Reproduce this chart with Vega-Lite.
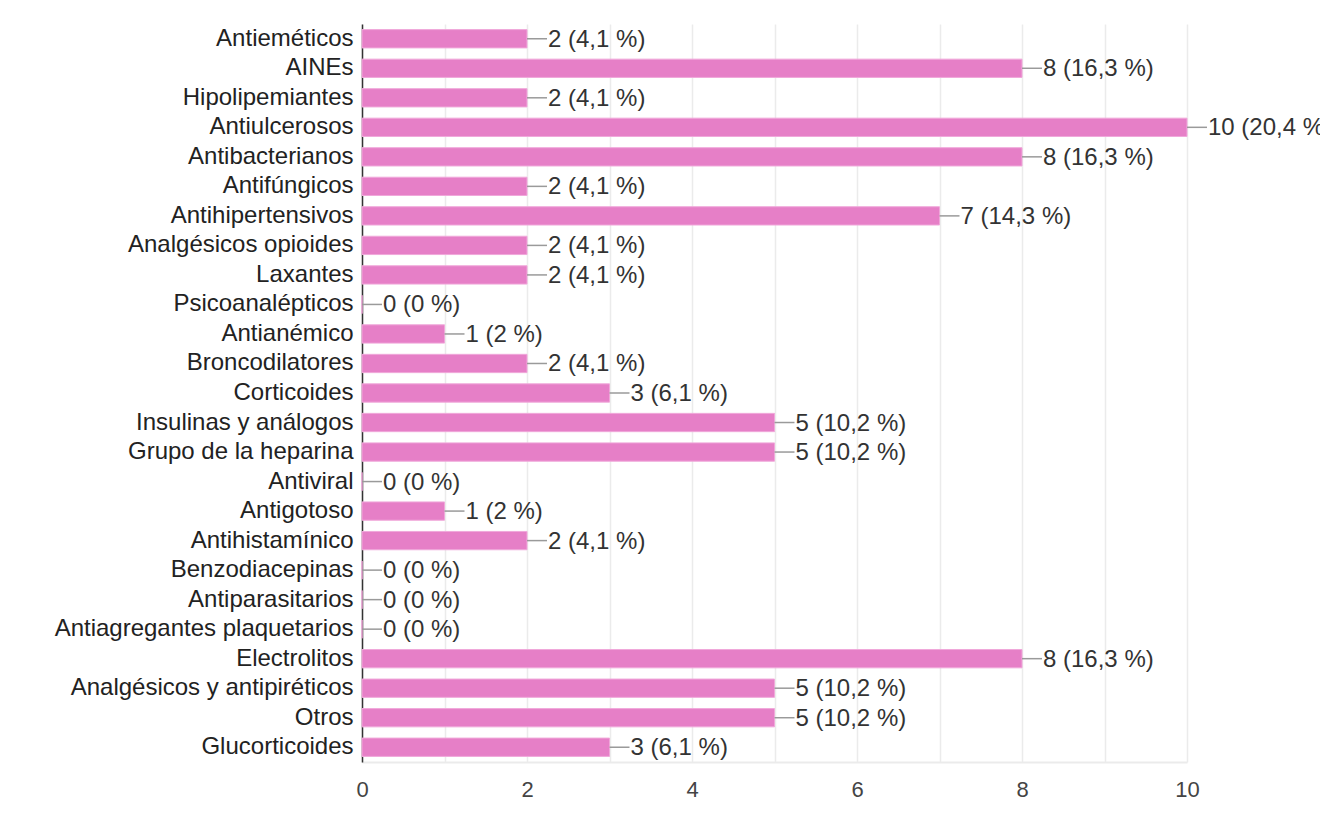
{
  "$schema": "https://vega.github.io/schema/vega-lite/v6.json",
  "autosize": {"type": "none"},
  "padding": {"left": 362, "top": 24, "right": 133, "bottom": 72},
  "width": 825,
  "height": 738,
  "background": "white",
  "config": {
    "font": "Liberation Sans",
    "view": {"stroke": null}
  },
  "data": {
    "values": [
      {"cat": "Antieméticos", "value": 2, "label": "2 (4,1 %)"},
      {"cat": "AINEs", "value": 8, "label": "8 (16,3 %)"},
      {"cat": "Hipolipemiantes", "value": 2, "label": "2 (4,1 %)"},
      {"cat": "Antiulcerosos", "value": 10, "label": "10 (20,4 %)"},
      {"cat": "Antibacterianos", "value": 8, "label": "8 (16,3 %)"},
      {"cat": "Antifúngicos", "value": 2, "label": "2 (4,1 %)"},
      {"cat": "Antihipertensivos", "value": 7, "label": "7 (14,3 %)"},
      {"cat": "Analgésicos opioides", "value": 2, "label": "2 (4,1 %)"},
      {"cat": "Laxantes", "value": 2, "label": "2 (4,1 %)"},
      {"cat": "Psicoanalépticos", "value": 0, "label": "0 (0 %)"},
      {"cat": "Antianémico", "value": 1, "label": "1 (2 %)"},
      {"cat": "Broncodilatores", "value": 2, "label": "2 (4,1 %)"},
      {"cat": "Corticoides", "value": 3, "label": "3 (6,1 %)"},
      {"cat": "Insulinas y análogos", "value": 5, "label": "5 (10,2 %)"},
      {"cat": "Grupo de la heparina", "value": 5, "label": "5 (10,2 %)"},
      {"cat": "Antiviral", "value": 0, "label": "0 (0 %)"},
      {"cat": "Antigotoso", "value": 1, "label": "1 (2 %)"},
      {"cat": "Antihistamínico", "value": 2, "label": "2 (4,1 %)"},
      {"cat": "Benzodiacepinas", "value": 0, "label": "0 (0 %)"},
      {"cat": "Antiparasitarios", "value": 0, "label": "0 (0 %)"},
      {"cat": "Antiagregantes plaquetarios", "value": 0, "label": "0 (0 %)"},
      {"cat": "Electrolitos", "value": 8, "label": "8 (16,3 %)"},
      {"cat": "Analgésicos y antipiréticos", "value": 5, "label": "5 (10,2 %)"},
      {"cat": "Otros", "value": 5, "label": "5 (10,2 %)"},
      {"cat": "Glucorticoides", "value": 3, "label": "3 (6,1 %)"}
    ]
  },
  "encoding": {
    "y": {
      "field": "cat",
      "type": "nominal",
      "sort": null,
      "title": null,
      "scale": {"paddingInner": 0.38, "paddingOuter": 0.19},
      "axis": {
        "domainColor": "#333333",
        "domainWidth": 1.5,
        "ticks": false,
        "labelPadding": 9,
        "labelLimit": 0,
        "labelFontSize": 24,
        "labelColor": "#222222",
        "labelFont": "Liberation Sans",
        "grid": false
      }
    },
    "x": {
      "field": "value",
      "type": "quantitative",
      "title": null,
      "scale": {"domain": [0, 10], "nice": false},
      "axis": {
        "values": [0, 1, 2, 3, 4, 5, 6, 7, 8, 9, 10],
        "labelExpr": "datum.value % 2 === 0 ? datum.label : ''",
        "labelFlush": false,
        "labelOverlap": false,
        "grid": true,
        "gridColor": "#ebebeb",
        "gridWidth": 1.5,
        "domainColor": "#ebebeb",
        "domainWidth": 2,
        "ticks": false,
        "labelPadding": 17,
        "labelFontSize": 22,
        "labelColor": "#444444",
        "labelFont": "Liberation Sans"
      }
    }
  },
  "layer": [
    {
      "mark": {"type": "bar", "color": "#e67fc7", "stroke": "#f0a8da", "strokeWidth": 1}
    },
    {
      "mark": {"type": "rule", "color": "#9a9a9a", "strokeWidth": 1.5, "x2Offset": 20},
      "encoding": {
        "x2": {"field": "value"}
      }
    },
    {
      "mark": {"type": "text", "align": "left", "baseline": "middle", "dx": 21, "dy": 1, "fontSize": 24, "color": "#333333", "font": "Liberation Sans"},
      "encoding": {
        "text": {"field": "label", "type": "nominal"}
      }
    }
  ]
}
